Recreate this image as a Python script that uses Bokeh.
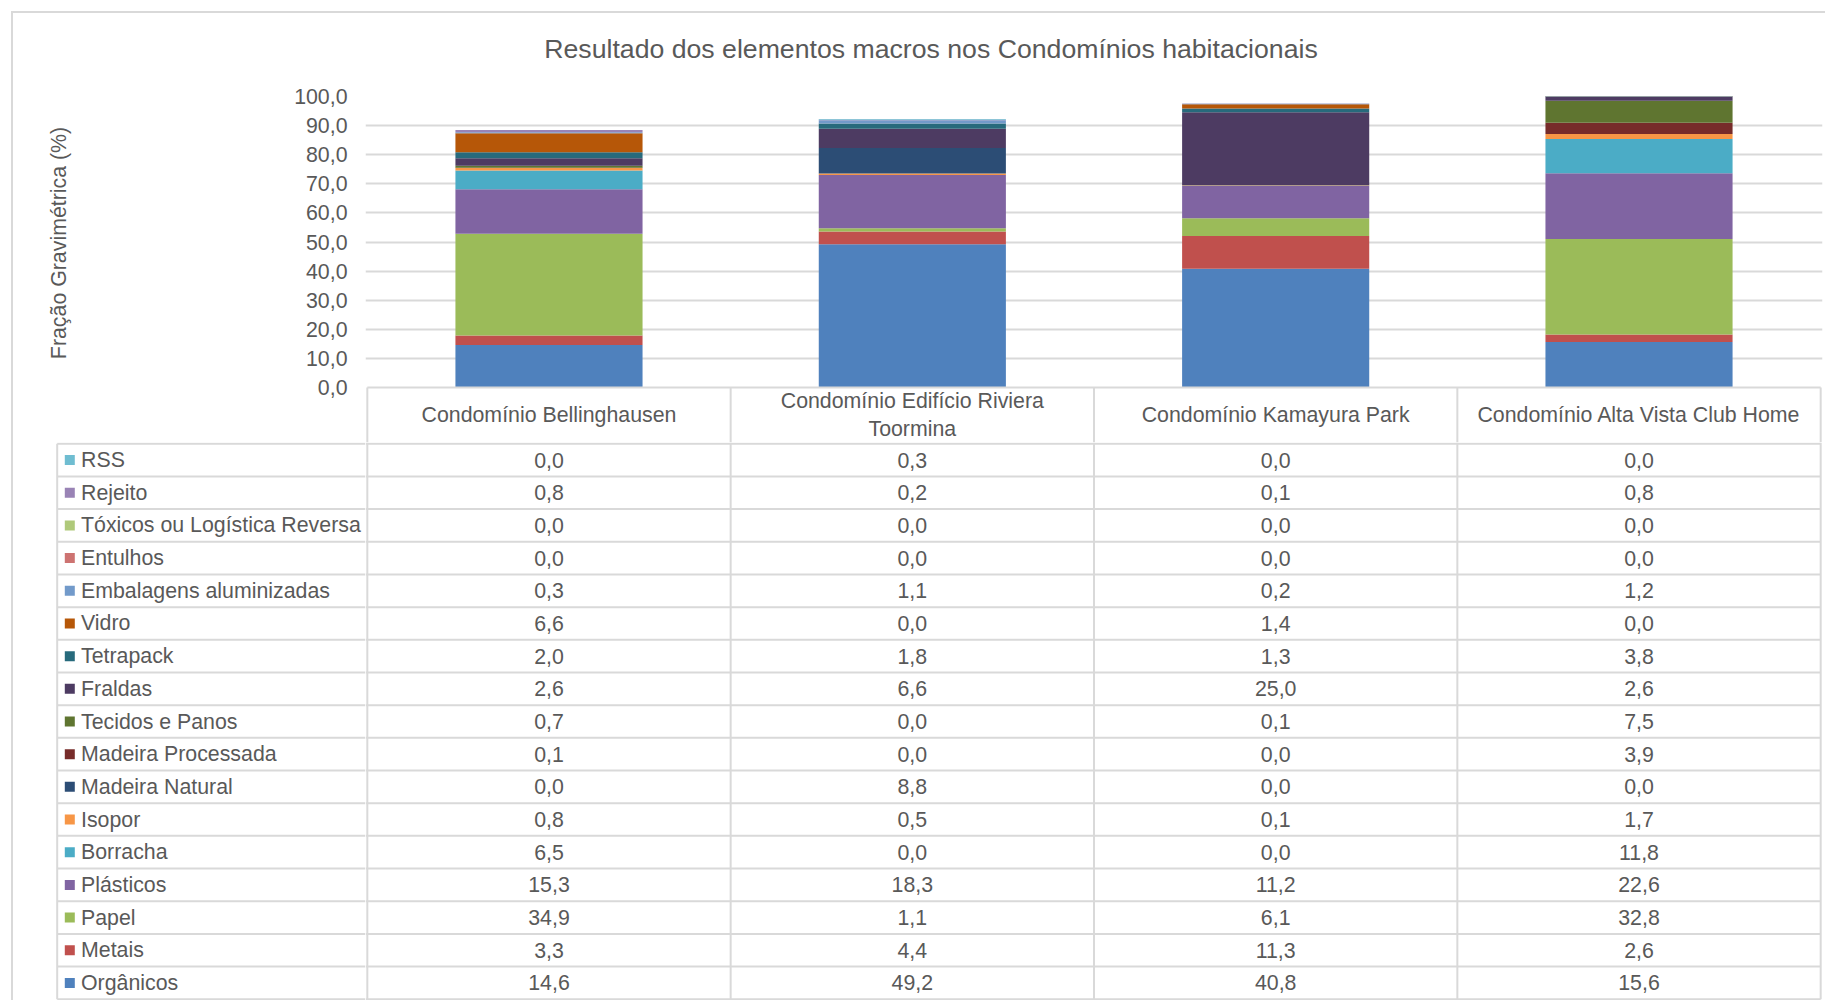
import math
from bokeh.plotting import figure
from bokeh.models import FactorRange, Range1d, FixedTicker, ColumnDataSource
from bokeh.layouts import column, row
from bokeh.embed import file_html
from bokeh.resources import INLINE
from bokeh.core.properties import value

# ---------------- data ----------------
categories = [
    "Condomínio Bellinghausen",
    "Condomínio Edifício Riviera Toormina",
    "Condomínio Kamayura Park",
    "Condomínio Alta Vista Club Home",
]
header_labels = [
    "Condomínio Bellinghausen",
    "Condomínio Edifício Riviera\nToormina",
    "Condomínio Kamayura Park",
    "Condomínio Alta Vista Club Home",
]

organicos = [14.6, 49.2, 40.8, 15.6]
metais = [3.3, 4.4, 11.3, 2.6]
papel = [34.9, 1.1, 6.1, 32.8]
plasticos = [15.3, 18.3, 11.2, 22.6]
borracha = [6.5, 0.0, 0.0, 11.8]
isopor = [0.8, 0.5, 0.1, 1.7]
madeira_natural = [0.0, 8.8, 0.0, 0.0]
madeira_processada = [0.1, 0.0, 0.0, 3.9]
tecidos_panos = [0.7, 0.0, 0.1, 7.5]
fraldas = [2.6, 6.6, 25.0, 2.6]
tetrapack = [2.0, 1.8, 1.3, 3.8]
vidro = [6.6, 0.0, 1.4, 0.0]
embalagens_aluminizadas = [0.3, 1.1, 0.2, 1.2]
entulhos = [0.0, 0.0, 0.0, 0.0]
toxicos = [0.0, 0.0, 0.0, 0.0]
rejeito = [0.8, 0.2, 0.1, 0.8]
rss = [0.0, 0.3, 0.0, 0.0]

series_names = [
    "Orgânicos", "Metais", "Papel", "Plásticos", "Borracha", "Isopor",
    "Madeira Natural", "Madeira Processada", "Tecidos e Panos", "Fraldas",
    "Tetrapack", "Vidro", "Embalagens aluminizadas", "Entulhos",
    "Tóxicos ou Logística Reversa", "Rejeito", "RSS",
]
series_values = [
    organicos, metais, papel, plasticos, borracha, isopor, madeira_natural,
    madeira_processada, tecidos_panos, fraldas, tetrapack, vidro,
    embalagens_aluminizadas, entulhos, toxicos, rejeito, rss,
]
colors = [
    "#4F81BD", "#C0504D", "#9BBB59", "#8064A2", "#4BACC6", "#F79646",
    "#2C4D75", "#772C2A", "#5F7530", "#4D3B62", "#276A7C", "#B65708",
    "#729ACA", "#CD7371", "#AFC97A", "#9983B5", "#6FBDD1",
]
y_ticks = [0, 10, 20, 30, 40, 50, 60, 70, 80, 90, 100]
y_tick_labels = ["0,0", "10,0", "20,0", "30,0", "40,0", "50,0",
                 "60,0", "70,0", "80,0", "90,0", "100,0"]

title_text = "Resultado dos elementos macros nos Condomínios habitacionais"
y_title = "Fração Gravimétrica (%)"

# ---------------- style / layout ----------------
FONT = "Liberation Sans"
TXT = "#595959"
LINE = "#d9d9d9"
FS = "21.33px"
TOTAL_W = 1812
TITLE_H = 70         # strip holding the chart title
TITLE_X = 917.5
TITLE_Y = 35.3
TOP_H = 359          # chart + header row
BOT_H = 558          # 17 table rows
PLOT_PX = 291.0      # pixel height of the 0..100 value span
HDR = 55.0           # header row height (px)
YT_W = 80            # strip holding the rotated y title
YT_X = 45
YT_Y = 152
LEG_W = 352
TAB_W = TOTAL_W - LEG_W
PADX = 0.005
PADY = 1.25
BAR_W = 0.515
LEG_LINE_X = 43.7
KEY_X = 56.3
TEXT_X = 67.5

n = len(series_names)
ncat = len(categories)
ROW = (BOT_H - 2 * PADY) / n
H_UNITS = 100.0 * HDR / PLOT_PX
fmt = lambda v: f"{v:.1f}".replace(".", ",")


def strip(w, h):
    f = figure(x_range=Range1d(0, w), y_range=Range1d(h, 0),
               width=w, height=h, output_backend="svg", toolbar_location=None,
               x_axis_location=None, y_axis_location=None, min_border=0)
    f.outline_line_color = None
    f.grid.visible = False
    return f


xr = FactorRange(factors=categories, range_padding=PADX,
                 range_padding_units="absolute", factor_padding=0)

# ---------------- title strip ----------------
ttf = strip(TOTAL_W, TITLE_H)
ttf.text(x=[TITLE_X], y=[TITLE_Y], text=[title_text], text_font=value(FONT),
         text_font_size="26.67px", text_color=TXT, text_baseline="middle",
         text_align="center")

# ---------------- y title strip ----------------
ytf = strip(YT_W, TOP_H)
ytf.text(x=[YT_X], y=[YT_Y], text=[y_title], angle=math.pi / 2,
         text_font=value(FONT), text_font_size=FS, text_color=TXT,
         text_baseline="middle", text_align="center")

# ---------------- chart (with header row under it) ----------------
top = figure(x_range=xr, y_range=Range1d(-H_UNITS, 100), width=TOTAL_W - YT_W,
             height=TOP_H, output_backend="svg", toolbar_location=None,
             x_axis_location=None, min_border_left=LEG_W - YT_W,
             min_border_right=3, min_border_top=13, min_border_bottom=0)
top.outline_line_color = None

src = dict(cat=categories)
for name, vals in zip(series_names, series_values):
    src[name] = vals
top.vbar_stack(series_names, x="cat", width=BAR_W, color=colors,
               source=ColumnDataSource(src), line_color=None)

ax = top.yaxis[0]
ax.ticker = FixedTicker(ticks=y_ticks)
ax.major_label_overrides = {t: l for t, l in zip(y_ticks, y_tick_labels)}
ax.axis_line_color = None
ax.major_tick_line_color = None
ax.minor_tick_line_color = None
ax.major_tick_out = 0
ax.major_tick_in = 0
ax.major_label_standoff = 18
ax.major_label_text_font = FONT
ax.major_label_text_font_size = FS
ax.major_label_text_color = TXT
top.ygrid.ticker = FixedTicker(ticks=y_ticks[1:])
top.ygrid.grid_line_color = LINE
top.ygrid.grid_line_width = 2
top.xgrid.visible = False

vx = list(range(ncat + 1))
top.segment(x0=vx, x1=vx, y0=[-H_UNITS] * len(vx), y1=[0] * len(vx),
            line_color=LINE, line_width=2)
top.segment(x0=[0], x1=[ncat], y0=[0], y1=[0], line_color=LINE, line_width=2)
top.text(x=categories, y=[-H_UNITS / 2] * ncat, text=header_labels,
         text_font=value(FONT), text_font_size=FS, text_color=TXT,
         text_baseline="middle", text_align="center", text_line_height=1.17)

# ---------------- table rows ----------------
yr = Range1d(-PADY / ROW, n + PADY / ROW)

leg = figure(x_range=Range1d(0, LEG_W), y_range=yr, width=LEG_W, height=BOT_H,
             output_backend="svg", toolbar_location=None, x_axis_location=None,
             y_axis_location=None, min_border=0)
leg.outline_line_color = None
leg.grid.visible = False

tab = figure(x_range=xr, y_range=yr, width=TAB_W, height=BOT_H,
             output_backend="svg", toolbar_location=None, x_axis_location=None,
             y_axis_location=None, min_border_left=0, min_border_right=3,
             min_border_top=0, min_border_bottom=0)
tab.outline_line_color = None
tab.grid.visible = False

rows_y = [i + 0.5 for i in range(n)]

leg.segment(x0=[LEG_LINE_X] * (n + 1), x1=[LEG_W] * (n + 1),
            y0=list(range(n + 1)), y1=list(range(n + 1)),
            line_color=LINE, line_width=2)
leg.segment(x0=[LEG_LINE_X], x1=[LEG_LINE_X], y0=[0], y1=[n],
            line_color=LINE, line_width=2)
leg.scatter(x=[KEY_X] * n, y=rows_y, marker="square", size=10,
            color=colors, line_color=None)
leg.text(x=[TEXT_X] * n, y=rows_y, text=series_names, text_font=value(FONT),
         text_font_size=FS, text_color=TXT, text_baseline="middle",
         text_align="left")

tab.segment(x0=[-PADX] * (n + 1), x1=[ncat] * (n + 1),
            y0=list(range(n + 1)), y1=list(range(n + 1)),
            line_color=LINE, line_width=2)
tab.segment(x0=vx, x1=vx, y0=[0] * len(vx), y1=[n + PADY / ROW] * len(vx),
            line_color=LINE, line_width=2)

tx, ty, tt = [], [], []
for i, vals in enumerate(series_values):
    for j, c in enumerate(categories):
        tx.append(c)
        ty.append(i + 0.5)
        tt.append(fmt(vals[j]))
tab.text(x=tx, y=ty, text=tt, text_font=value(FONT), text_font_size=FS,
         text_color=TXT, text_baseline="middle", text_align="center")

layout = column(ttf, row(ytf, top), row(leg, tab),
                styles={"border-left": "2px solid #d9d9d9",
                        "border-top": "2px solid #d9d9d9",
                        "margin-left": "11px", "margin-top": "11px"})

open("out.html", "w").write(file_html(layout, INLINE))
